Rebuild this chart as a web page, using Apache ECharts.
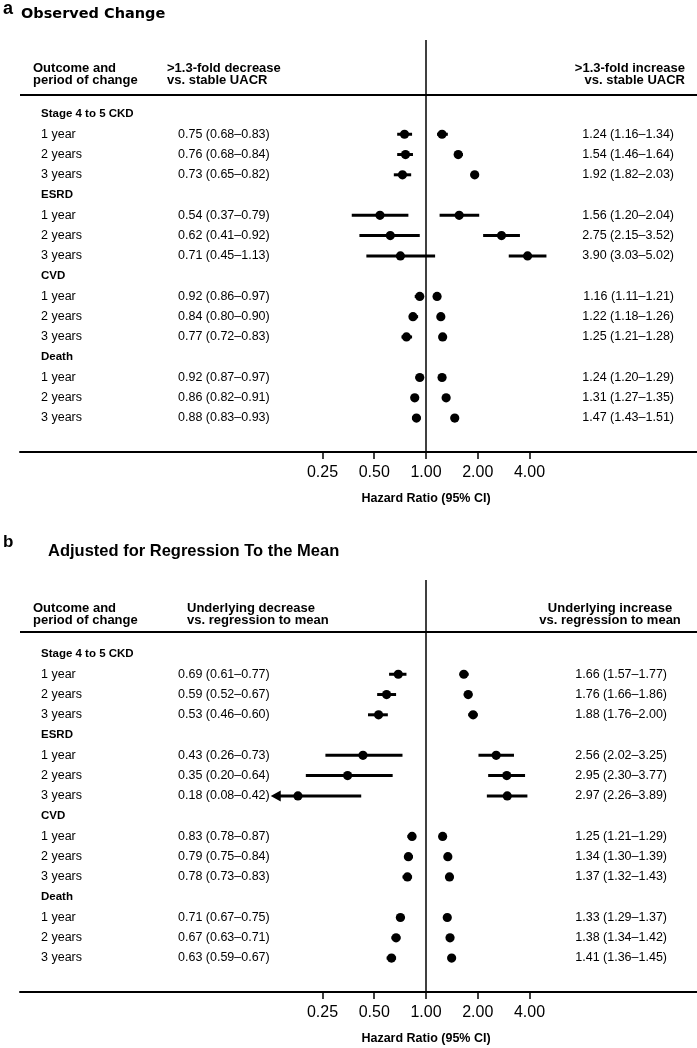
<!DOCTYPE html>
<html><head><meta charset="utf-8">
<script src="https://cdn.jsdelivr.net/npm/echarts@6/dist/echarts.min.js"></script>
<style>html,body{margin:0;padding:0;background:#fff}#c{width:697px;height:1048px}</style>
</head><body><div id="c"></div>
<script>
// ---------- data ----------
const outcomes = ['Stage 4 to 5 CKD', 'ESRD', 'CVD', 'Death'];
const periods = ['1 year', '2 years', '3 years'];
const tickLabels = [0.25, 0.5, 1, 2, 4];
const clipLow = 0.125;

// Panel a: observed change
const obsDecHR = [0.75, 0.76, 0.73, 0.54, 0.62, 0.71, 0.92, 0.84, 0.77, 0.92, 0.86, 0.88];
const obsDecLo = [0.68, 0.68, 0.65, 0.37, 0.41, 0.45, 0.86, 0.80, 0.72, 0.87, 0.82, 0.83];
const obsDecHi = [0.83, 0.84, 0.82, 0.79, 0.92, 1.13, 0.97, 0.90, 0.83, 0.97, 0.91, 0.93];
const obsIncHR = [1.24, 1.54, 1.92, 1.56, 2.75, 3.90, 1.16, 1.22, 1.25, 1.24, 1.31, 1.47];
const obsIncLo = [1.16, 1.46, 1.82, 1.20, 2.15, 3.03, 1.11, 1.18, 1.21, 1.20, 1.27, 1.43];
const obsIncHi = [1.34, 1.64, 2.03, 2.04, 3.52, 5.02, 1.21, 1.26, 1.28, 1.29, 1.35, 1.51];

// Panel b: adjusted for regression to the mean
const adjDecHR = [0.69, 0.59, 0.53, 0.43, 0.35, 0.18, 0.83, 0.79, 0.78, 0.71, 0.67, 0.63];
const adjDecLo = [0.61, 0.52, 0.46, 0.26, 0.20, 0.08, 0.78, 0.75, 0.73, 0.67, 0.63, 0.59];
const adjDecHi = [0.77, 0.67, 0.60, 0.73, 0.64, 0.42, 0.87, 0.84, 0.83, 0.75, 0.71, 0.67];
const adjIncHR = [1.66, 1.76, 1.88, 2.56, 2.95, 2.97, 1.25, 1.34, 1.37, 1.33, 1.38, 1.41];
const adjIncLo = [1.57, 1.66, 1.76, 2.02, 2.30, 2.26, 1.21, 1.30, 1.32, 1.29, 1.34, 1.36];
const adjIncHi = [1.77, 1.86, 2.00, 3.25, 3.77, 3.89, 1.29, 1.39, 1.43, 1.37, 1.42, 1.45];

// ---------- layout ----------
const SANS = "'Liberation Sans',Arial,sans-serif";
const X_MIN = -7.845, X_MAX = 5.237;   // log2 HR extent of the plot width
const Y_MIN = -3.65, Y_MAX = 16.675;   // row extent (inverse)
const panels = [
  {top: 40, dec: [obsDecHR, obsDecLo, obsDecHi], inc: [obsIncHR, obsIncLo, obsIncHi], valX: 178, rightX: 674},
  {top: 580, dec: [adjDecHR, adjDecLo, adjDecHi], inc: [adjIncHR, adjIncLo, adjIncHi], valX: 178, rightX: 667}
];
const fmt = v => v.toFixed(2);
const rowOf = i => Math.floor(i / 3) * 4 + (i % 3) + 1;

function forestRender(params, api) {
  const hr = api.value(0), lo = api.value(1), hi = api.value(2), row = api.value(3);
  const clipped = lo < clipLow;
  const pL = api.coord([Math.log2(clipped ? clipLow : lo), row]);
  const pH = api.coord([Math.log2(hi), row]);
  const pM = api.coord([Math.log2(hr), row]);
  const children = [
    {type: 'line', shape: {x1: clipped ? pL[0] + 6 : pL[0], y1: pL[1], x2: pH[0], y2: pH[1]}, style: {stroke: '#000', lineWidth: 3}},
    {type: 'circle', shape: {cx: pM[0], cy: pM[1], r: 4.6}, style: {fill: '#000'}}
  ];
  if (clipped) children.push({type: 'polygon', shape: {points: [[pL[0], pL[1]], [pL[0] + 10, pL[1] - 5.5], [pL[0] + 10, pL[1] + 5.5]]}, style: {fill: '#000'}});
  return {type: 'group', children};
}

function textSeries(g, items) {
  return {
    type: 'custom', xAxisIndex: g, yAxisIndex: g, silent: true, clip: false,
    data: items.map(it => [0, it.row]),
    renderItem: (params, api) => {
      const it = items[params.dataIndex];
      const y = api.coord([0, api.value(1)])[1];
      return {type: 'text', x: it.x, y: y, style: {text: it.text, font: it.font, fill: '#000', textAlign: it.align || 'left', textVerticalAlign: 'middle'}};
    }
  };
}

const series = [];
panels.forEach((p, g) => {
  ['dec', 'inc'].forEach((side, k) => {
    const [hr, lo, hi] = p[side];
    const s = {
      type: 'custom', xAxisIndex: g, yAxisIndex: g, clip: false, silent: true,
      data: hr.map((v, i) => [v, lo[i], hi[i], rowOf(i)]),
      renderItem: forestRender
    };
    if (k === 0) s.markLine = {silent: true, symbol: 'none', label: {show: false}, lineStyle: {color: '#000', width: 1.5, type: 'solid'}, data: [{xAxis: 0}]};
    series.push(s);
  });
  const items = [];
  const vf = `12.5px ${SANS}`;
  outcomes.forEach((o, j) => items.push({row: j * 4, text: o, x: 41, font: `bold 11.5px ${SANS}`}));
  p.dec[0].forEach((v, i) => {
    items.push({row: rowOf(i), text: periods[i % 3], x: 41, font: vf});
    items.push({row: rowOf(i), text: `${fmt(v)} (${fmt(p.dec[1][i])}\u2013${fmt(p.dec[2][i])})`, x: p.valX, font: vf});
    items.push({row: rowOf(i), text: `${fmt(p.inc[0][i])} (${fmt(p.inc[1][i])}\u2013${fmt(p.inc[2][i])})`, x: p.rightX, align: 'right', font: vf});
  });
  series.push(textSeries(g, items));
});

const hdr = `bold 13px ${SANS}`;
const txt = (x, y, text, font, align) => ({type: 'text', x, y, style: {text, font, fill: '#000', textAlign: align || 'left', textVerticalAlign: 'middle'}});
const rule = (y) => ({type: 'line', shape: {x1: 20, y1: y, x2: 697, y2: y}, style: {stroke: '#000', lineWidth: 2}});
const graphic = [
  txt(3, 9, 'a', `bold 18px ${SANS}`),
  txt(21, 14, 'Observed Change', `bold 14.5px 'DejaVu Sans',sans-serif`),
  txt(33, 68, 'Outcome and', hdr), txt(33, 80, 'period of change', hdr),
  txt(167, 68, '>1.3-fold decrease', hdr), txt(167, 80, 'vs. stable UACR', hdr),
  txt(685, 68, '>1.3-fold increase', hdr, 'right'), txt(685, 80, 'vs. stable UACR', hdr, 'right'),
  rule(95),
  txt(426, 499, 'Hazard Ratio (95% CI)', `bold 12.5px ${SANS}`, 'center'),

  txt(3, 542, 'b', `bold 17px ${SANS}`),
  txt(48, 551, 'Adjusted for Regression To the Mean', `bold 16.5px ${SANS}`),
  txt(33, 608, 'Outcome and', hdr), txt(33, 620, 'period of change', hdr),
  txt(187, 608, 'Underlying decrease', hdr), txt(187, 620, 'vs. regression to mean', hdr),
  txt(610, 608, 'Underlying increase', hdr, 'center'), txt(610, 620, 'vs. regression to mean', hdr, 'center'),
  rule(632),
  txt(426, 1039, 'Hazard Ratio (95% CI)', `bold 12.5px ${SANS}`, 'center')
];

const tickVals = tickLabels.map(Math.log2);
const option = {
  animation: false,
  backgroundColor: '#fff',
  grid: panels.map(p => ({left: 20, right: 0, top: p.top, height: 412})),
  xAxis: panels.map((p, g) => ({
    type: 'value', gridIndex: g, min: X_MIN, max: X_MAX,
    axisLine: {show: true, onZero: false, lineStyle: {color: '#000', width: 2}},
    axisTick: {show: true, customValues: tickVals, length: 7, lineStyle: {color: '#000', width: 1.5}},
    axisLabel: {customValues: tickVals, formatter: v => Math.pow(2, v).toFixed(2), fontFamily: SANS, fontSize: 16, color: '#000', margin: 13},
    splitLine: {show: false}
  })),
  yAxis: panels.map((p, g) => ({type: 'value', gridIndex: g, inverse: true, min: Y_MIN, max: Y_MAX, show: false})),
  series,
  graphic
};
const chart = echarts.init(document.getElementById('c'), null, {renderer: 'canvas'});
chart.setOption(option);
</script></body></html>
